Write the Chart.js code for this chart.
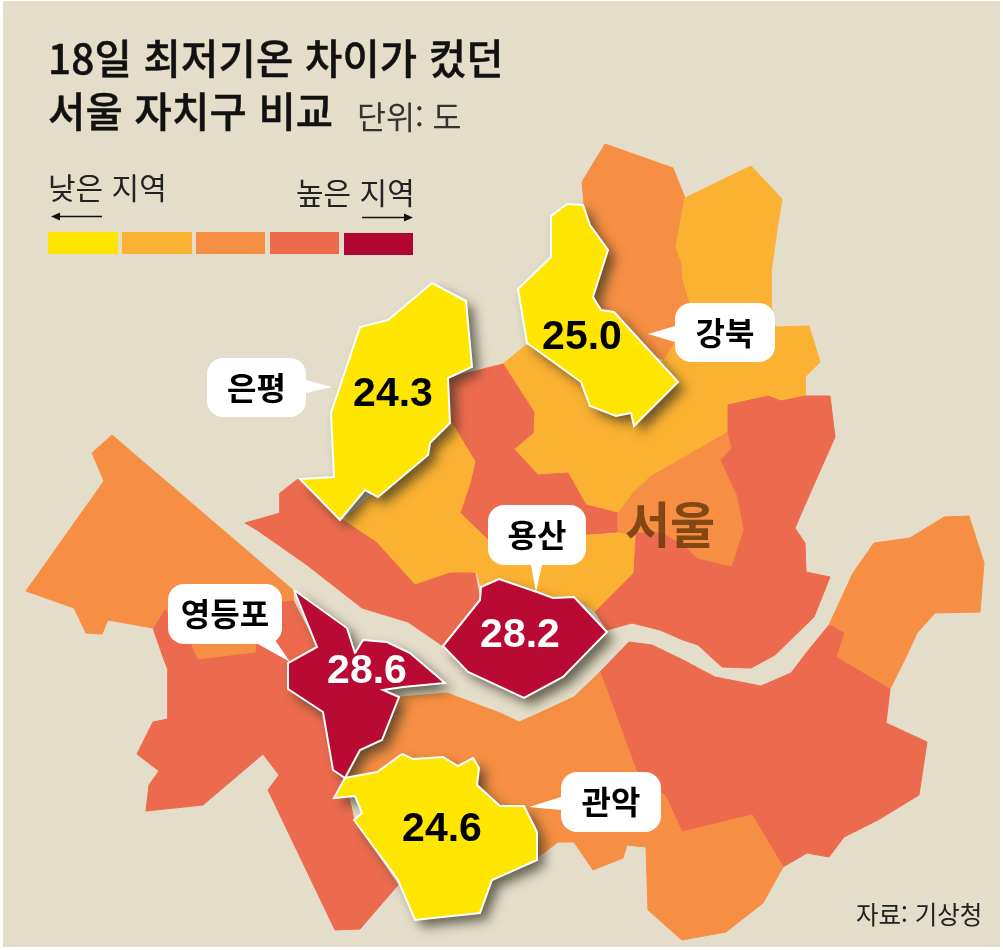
<!DOCTYPE html>
<html lang="ko">
<head>
<meta charset="utf-8">
<title>18일 최저기온 차이가 컸던 서울 자치구 비교</title>
<script src="https://cdn.jsdelivr.net/npm/chart.js@4/dist/chart.umd.js"></script>
<style>
html,body{margin:0;padding:0;background:#fff;width:1003px;height:950px;overflow:hidden}
#paper{position:absolute;left:3px;top:1px;width:997px;height:946px;background:#E4DDCA}
canvas{position:absolute;left:0;top:0}
.t{position:absolute;white-space:nowrap;font-family:"Noto Sans CJK KR","Noto Sans",sans-serif;line-height:1;color:#111}
.s{position:absolute}
</style>
</head>
<body>
<div id="paper"></div>
<canvas id="c" width="1003" height="950"></canvas>
<div class="t" style="left:48px;top:37px;font-size:40.5px;font-weight:500;letter-spacing:.2px;-webkit-text-stroke:.5px #111">18일 최저기온 차이가 컸던</div>
<div class="t" style="left:48px;top:90px;font-size:40.5px;font-weight:500;letter-spacing:.2px;-webkit-text-stroke:.5px #111">서울 자치구 비교</div>
<div class="t" style="left:357px;top:100px;font-size:31.5px;color:#333">단위: 도</div>
<div class="t" style="left:48px;top:171px;font-size:30px;color:#222">낮은 지역</div>
<div class="t" style="left:296px;top:176px;font-size:30px;color:#222">높은 지역</div>
<div class="s" style="left:48px;top:232px;width:70px;height:22px;background:#FFE600"></div>
<div class="s" style="left:122px;top:232px;width:70px;height:22px;background:#FBB232"></div>
<div class="s" style="left:196px;top:232px;width:69px;height:22px;background:#F68F43"></div>
<div class="s" style="left:270px;top:232px;width:69px;height:22px;background:#EC6B4F"></div>
<div class="s" style="left:344px;top:233px;width:69px;height:22px;background:#B0062F"></div>
<div class="t" style="left:856px;top:902px;font-size:24.5px;color:#222">자료: 기상청</div>
<script>
// Highlighted districts
const names = ['은평', '강북', '용산', '영등포', '관악'];
const values = [24.3, 25.0, 28.2, 28.6, 24.6];

// District outlines
const eunpyeong = [[432,283],[466,301],[472,367],[448,378],[450,423],[430,443],[428,455],[378,497],[365,490],[340,520],[300,479],[334,477],[331,413],[360,327],[388,320]];
const gangbuk = [[567,204],[583,205],[590,225],[608,250],[593,297],[601,310],[614,312],[678,382],[634,426],[631,413],[616,416],[590,406],[581,382],[527,343],[518,289],[551,257],[551,216]];
const yongsan = [[499,579],[537,592],[553,598],[574,597],[607,632],[563,677],[524,698],[468,672],[443,646],[480,600],[481,587]];
const yeongdeungpo = [[294,590],[347,628],[355,653],[363,640],[387,642],[410,653],[445,683],[403,687],[383,690],[399,697],[382,740],[360,750],[345,778],[333,770],[323,712],[288,689],[288,663],[317,647]];
const gwanak = [[402,754],[413,759],[443,757],[458,766],[473,758],[479,768],[477,785],[500,806],[524,806],[537,832],[537,860],[492,880],[480,913],[415,920],[398,880],[354,820],[362,813],[355,796],[334,798],[345,778],[377,772]];

const dobong = [[605,144],[673,168],[685,198],[676,247],[682,263],[683,280],[690,303],[675,343],[664,360],[640,350],[590,300],[590,230],[584,205],[582,182]];
const nowonSeongbuk = [[751,166],[782,199],[777,230],[771,273],[771,303],[775,327],[809,326],[820,362],[805,377],[805,396],[781,401],[768,396],[728,405],[728,432],[650,477],[634,492],[618,513],[586,505],[568,473],[538,475],[514,449],[533,433],[534,412],[503,364],[526,345],[580,360],[620,390],[664,360],[675,343],[690,303],[683,280],[682,263],[676,247],[685,198]];
const seodaemun = [[503,364],[534,412],[533,433],[514,449],[538,475],[568,473],[586,505],[618,513],[618,532],[586,535],[488,540],[460,513],[475,460],[450,423],[448,378]];
const sinchon = [[452,423],[475,462],[470,483],[460,513],[488,540],[490,565],[477,573],[450,573],[415,585],[377,543],[343,520],[400,470]];
const junggu = [[490,540],[586,535],[634,533],[634,573],[595,612],[574,597],[553,598],[499,579],[481,587],[477,573]];
const dongdaemun = [[728,432],[732,448],[721,460],[738,497],[744,530],[732,567],[698,559],[685,547],[662,533],[634,535],[618,532],[618,513],[634,492],[650,477]];
const jungnangGwangjin = [[728,405],[768,396],[781,401],[805,396],[830,396],[835,437],[804,507],[795,528],[805,543],[806,572],[830,577],[814,617],[775,655],[751,668],[722,667],[698,645],[683,640],[660,630],[632,623],[607,630],[595,612],[634,573],[636,533],[662,533],[685,547],[698,559],[732,567],[744,530],[738,497],[721,460],[732,448],[728,432]];
const gangdong = [[874,543],[910,538],[944,517],[969,516],[984,563],[980,612],[935,613],[917,633],[906,657],[890,689],[836,657],[844,633],[829,625],[853,573]];
const songpaGangnam = [[629,642],[652,645],[683,660],[715,677],[761,686],[791,673],[807,652],[829,625],[844,633],[836,657],[890,689],[886,723],[927,742],[919,795],[878,820],[844,837],[829,857],[807,853],[783,867],[752,815],[682,832],[666,797],[636,770],[600,672]];
const dongjakSeocho = [[400,697],[447,693],[500,713],[519,722],[535,715],[574,697],[600,672],[636,770],[666,797],[682,832],[752,815],[783,867],[763,903],[726,932],[682,940],[648,910],[646,847],[627,845],[623,858],[593,870],[574,842],[558,842],[537,858],[480,850],[400,800],[345,778],[360,750],[383,740]];
const mapo = [[298,479],[280,493],[280,513],[245,523],[257,530],[307,565],[362,608],[408,622],[443,646],[480,600],[475,573],[450,573],[415,585],[377,543],[343,520]];
const gangseo = [[112,435],[293,590],[293,600],[282,601],[255,640],[255,652],[198,659],[192,645],[165,608],[153,628],[108,620],[102,634],[86,633],[74,608],[26,591],[104,481],[92,453]];
const yangcheonGuro = [[153,628],[163,657],[168,670],[168,719],[153,722],[137,754],[159,771],[149,785],[146,811],[203,805],[263,754],[279,775],[268,790],[335,930],[360,929],[398,885],[354,820],[345,778],[333,770],[323,712],[288,689],[288,663],[317,647],[293,600],[282,601],[255,600],[165,608]];

const YELLOW = '#FFE600', AMBER = '#FBB232', ORANGE = '#F68F43', CORAL = '#EC6B4F', CRIMSON = '#B80A33';

const baseLayers = [
  [dobong, ORANGE], [nowonSeongbuk, AMBER], [seodaemun, CORAL], [sinchon, AMBER], [junggu, AMBER],
  [dongdaemun, ORANGE], [jungnangGwangjin, CORAL], [gangdong, ORANGE], [songpaGangnam, CORAL],
  [dongjakSeocho, ORANGE], [mapo, CORAL], [yangcheonGuro, CORAL], [gangseo, ORANGE]
];
const topLayers = [
  [gangbuk, YELLOW], [eunpyeong, YELLOW], [yongsan, CRIMSON], [yeongdeungpo, CRIMSON], [gwanak, YELLOW]
];

const toPts = a => a.concat([a[0]]).map(p => ({x: p[0], y: p[1]}));
const ds = (poly, col, extra) => Object.assign({
  data: toPts(poly), showLine: true, fill: 'shape', tension: 0, backgroundColor: col,
  borderColor: col, borderWidth: 1, pointRadius: 0, pointHoverRadius: 0, clip: false
}, extra || {});

const layers = [];
baseLayers.forEach(l => layers.push(ds(l[0], l[1])));
topLayers.forEach(l => {
  layers.push(ds(l[0], l[1], {fill: false, caster: true, borderWidth: 0, borderColor: 'rgba(0,0,0,0)'}));
  layers.push(ds(l[0], l[1], {borderColor: '#FFFFFF', borderWidth: 2, borderJoinStyle: 'miter'}));
});
// Chart.js paints the first dataset last
const datasets = layers.slice().reverse();

const labelLayout = [
  {cx: 393, cy: 395, col: '#000'},
  {cx: 582, cy: 338, col: '#000'},
  {cx: 520, cy: 636, col: '#fff', halo: CRIMSON},
  {cx: 367, cy: 672, col: '#fff', halo: CRIMSON},
  {cx: 442, cy: 830, col: '#000'}
];
const bubbleLayout = [
  {x: 207, y: 358, w: 99, h: 59, tail: [[306,380],[332,387],[306,393]]},
  {x: 675, y: 303, w: 100, h: 59, tail: [[675,326],[648,334],[675,342]]},
  {x: 488, y: 505, w: 98, h: 60, tail: [[531,565],[536,592],[542,565]]},
  {x: 168, y: 584, w: 114, h: 60, tail: [[258,644],[290,662],[275,640]]},
  {x: 561, y: 772, w: 100, h: 60, tail: [[561,797],[529,807],[561,810]]}
];

const casterShadow = {
  id: 'casterShadow',
  beforeDatasetDraw(chart, args) {
    const d = chart.data.datasets[args.index];
    if (!d.caster) return;
    const pts = args.meta.data, ctx = chart.ctx;
    ctx.save();
    ctx.shadowColor = 'rgba(50,45,30,0.7)';
    ctx.shadowBlur = 12;
    ctx.shadowOffsetX = 7;
    ctx.shadowOffsetY = 7;
    ctx.fillStyle = d.backgroundColor;
    ctx.beginPath();
    pts.forEach((p, i) => i ? ctx.lineTo(p.x, p.y) : ctx.moveTo(p.x, p.y));
    ctx.closePath();
    ctx.fill();
    ctx.restore();
  }
};

const overlay = {
  id: 'overlay',
  afterDatasetsDraw(chart) {
    const ctx = chart.ctx, X = chart.scales.x, Y = chart.scales.y;
    const px = v => X.getPixelForValue(v), py = v => Y.getPixelForValue(v);
    ctx.save();
    // legend arrows
    ctx.strokeStyle = '#111'; ctx.fillStyle = '#111'; ctx.lineWidth = 1.3;
    ctx.beginPath(); ctx.moveTo(56, 216.5); ctx.lineTo(102, 216.5); ctx.stroke();
    ctx.beginPath(); ctx.moveTo(51, 216.5); ctx.lineTo(60, 212.5); ctx.lineTo(60, 220.5); ctx.fill();
    ctx.beginPath(); ctx.moveTo(362, 217.5); ctx.lineTo(408, 217.5); ctx.stroke();
    ctx.beginPath(); ctx.moveTo(413, 217.5); ctx.lineTo(404, 213.5); ctx.lineTo(404, 221.5); ctx.fill();

    // 서울 label
    ctx.textAlign = 'center'; ctx.textBaseline = 'middle';
    ctx.font = '700 49px "Noto Sans CJK KR"';
    ctx.fillStyle = 'rgba(105,55,10,0.82)';
    ctx.fillText('서울', px(670), py(524));

    // value labels
    ctx.font = '700 41px "Liberation Sans"';
    ctx.lineJoin = 'round';
    values.forEach((v, i) => {
      const L = labelLayout[i], s = v.toFixed(1);
      if (L.halo) { ctx.strokeStyle = L.halo; ctx.lineWidth = 5; ctx.strokeText(s, px(L.cx), py(L.cy)); }
      ctx.fillStyle = L.col;
      ctx.fillText(s, px(L.cx), py(L.cy));
    });

    // callouts
    names.forEach((n, i) => {
      const B = bubbleLayout[i];
      ctx.fillStyle = '#fff';
      ctx.beginPath();
      ctx.roundRect(px(B.x), py(B.y), B.w, B.h, 16);
      ctx.fill();
      ctx.beginPath();
      B.tail.forEach((p, k) => k ? ctx.lineTo(px(p[0]), py(p[1])) : ctx.moveTo(px(p[0]), py(p[1])));
      ctx.closePath();
      ctx.fill();
      ctx.fillStyle = '#000';
      ctx.font = '700 32px "Noto Sans CJK KR"';
      ctx.fillText(n, px(B.x + B.w / 2), py(B.y + B.h / 2));
    });
    ctx.restore();
  }
};

new Chart(document.getElementById('c'), {
  type: 'scatter',
  data: {datasets},
  plugins: [casterShadow, overlay],
  options: {
    responsive: false,
    devicePixelRatio: 1,
    animation: false,
    events: [],
    layout: {padding: 0},
    scales: {
      x: {type: 'linear', min: 0, max: 1003, display: false},
      y: {type: 'linear', min: 0, max: 950, reverse: true, display: false}
    },
    plugins: {legend: {display: false}, tooltip: {enabled: false}, title: {display: false}}
  }
});
</script>
</body>
</html>
